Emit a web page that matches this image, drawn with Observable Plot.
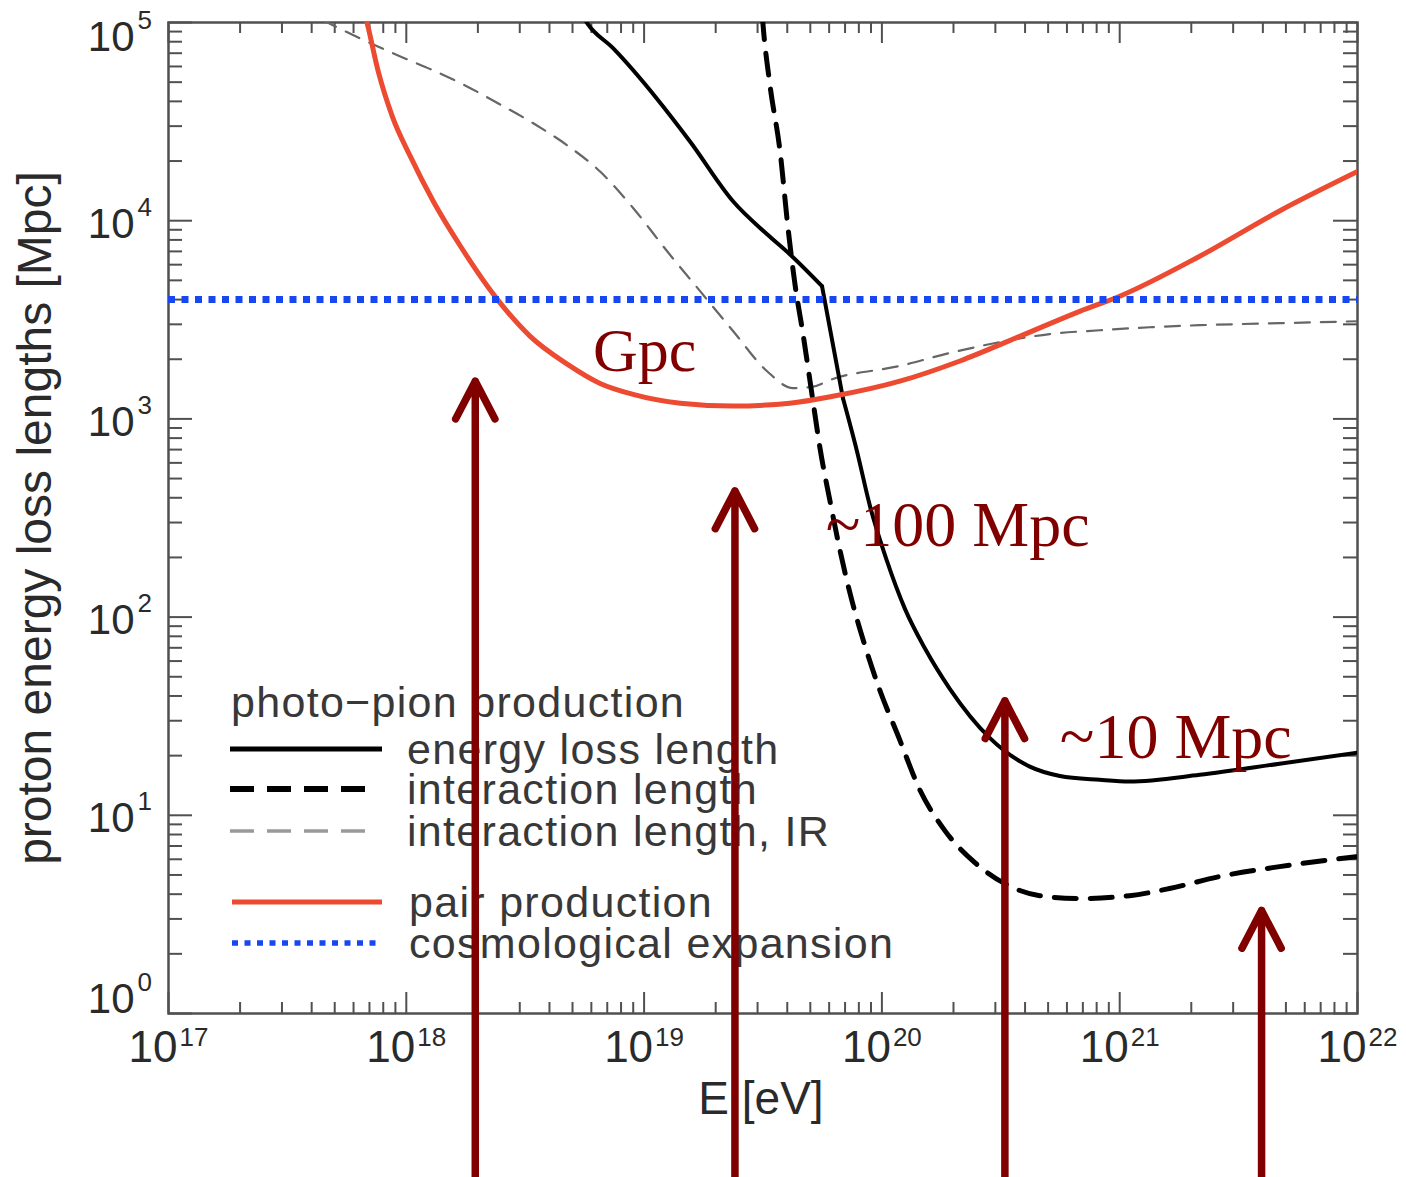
<!DOCTYPE html>
<html>
<head>
<meta charset="utf-8">
<script src="https://cdn.jsdelivr.net/npm/d3@7"></script>
<script src="https://cdn.jsdelivr.net/npm/@observablehq/plot@0.6"></script>
<style>
  html, body { margin: 0; padding: 0; background: #fff; }
  #chart svg { display: block; }
</style>
</head>
<body>
<div id="chart"></div>
<script>
// ---------------- data ----------------
// pair production energy-loss length
const pairE = [6.11e17, 6.85e17, 7.62e17, 8.73e17, 1.04e18, 1.30e18, 1.69e18, 2.41e18, 3.32e18, 4.75e18, 6.53e18, 8.99e18, 1.42e19, 2.37e19, 4.10e19, 6.22e19, 1.19e20, 2.13e20, 3.80e20, 6.79e20, 1.0e21, 2.17e21, 4.70e21, 1.0e22];
const pairL = [1.61e5, 9.9e4, 5.66e4, 3.36e4, 2.11e4, 1.25e4, 7.43e3, 4.02e3, 2.61e3, 1.89e3, 1.51e3, 1.33e3, 1.20e3, 1.16e3, 1.20e3, 1.30e3, 1.55e3, 1.96e3, 2.61e3, 3.49e3, 4.16e3, 6.62e3, 1.12e4, 1.77e4];

// photo-pion energy loss length (kink at index 8)
const lossE = [4.89e18, 5.77e18, 7.42e18, 1.13e19, 1.56e19, 2.37e19, 3.29e19, 4.10e19, 5.60e19, 6.86e19, 7.85e19, 8.91e19, 1.05e20, 1.25e20, 1.52e20, 1.93e20, 2.84e20, 4.19e20, 5.60e20, 8.24e20, 1.10e21, 2.17e21, 4.70e21, 1.0e22];
const lossL = [1.43e5, 9.9e4, 7.40e4, 4.14e4, 2.51e4, 1.25e4, 8.54e3, 6.77e3, 4.67e3, 1.27e3, 689, 363, 192, 110, 69.2, 43.5, 24.6, 17.6, 15.8, 15.1, 14.8, 16.0, 18.2, 20.7];

// photo-pion interaction length
const interE = [3.07e19, 3.16e19, 3.38e19, 3.73e19, 4.03e19, 4.31e19, 4.66e19, 5.13e19, 5.49e19, 6.05e19, 6.67e19, 7.48e19, 8.49e19, 9.82e19, 1.17e20, 1.45e20, 1.84e20, 2.46e20, 3.29e20, 4.61e20, 6.79e20, 1.10e21, 1.62e21, 2.63e21, 4.70e21, 1.0e22];
const interL = [1.61e5, 9.9e4, 4.87e4, 2.24e4, 9.16e3, 4.78e3, 2.68e3, 1.23e3, 713, 385, 216, 121, 71.6, 42.5, 25.2, 13.3, 8.37, 5.77, 4.52, 3.93, 3.80, 3.93, 4.27, 4.91, 5.51, 6.19];

// photo-pion interaction length, IR
const irE = [4.44e17, 6.41e17, 9.44e17, 1.30e18, 1.80e18, 2.48e18, 3.42e18, 4.75e18, 6.53e18, 8.99e18, 1.25e19, 1.72e19, 2.37e19, 3.29e19, 4.23e19, 5.08e19, 6.22e19, 1.19e20, 1.93e20, 3.13e20, 5.08e20, 8.24e20, 1.34e21, 2.17e21, 4.70e21, 1.0e22];
const irL = [1.03e5, 8.30e4, 6.74e4, 5.73e4, 4.76e4, 3.86e4, 3.10e4, 2.40e4, 1.77e4, 1.16e4, 7.01e3, 4.41e3, 2.77e3, 1.74e3, 1.43e3, 1.45e3, 1.59e3, 1.85e3, 2.15e3, 2.44e3, 2.68e3, 2.80e3, 2.90e3, 2.97e3, 3.04e3, 3.11e3];

// cosmological expansion (Hubble length)
const cosmoL = [4000];

// annotation arrows: energy and tip height
const arrowE = [1.95e18, 2.41e19, 3.29e20, 3.95e21];
const arrowTop = [1550, 433, 37.8, 3.31];
const arrowBase = 0.1;

// annotation texts
const noteText = ["Gpc", "~100 Mpc", "~10 Mpc"];
const noteE = [6.1e18, 5.8e19, 5.6e20];
const noteL = [2200, 290, 24.8];

// axes
const xMajor = [1e17, 1e18, 1e19, 1e20, 1e21, 1e22];
const xExp = ["17", "18", "19", "20", "21", "22"];
const yMajor = [1e0, 1e1, 1e2, 1e3, 1e4, 1e5];
const yExp = ["0", "1", "2", "3", "4", "5"];
const xTitle = "E [eV]";
const yTitle = "proton energy loss lengths [Mpc]";

// legend
const legendTitle = "photo\u2212pion production";
const legendLabels = ["energy loss length", "interaction length", "interaction length, IR", "pair production", "cosmological expansion"];

// ---------------- build ----------------
const zip = (E, L) => E.map((e, i) => ({E: e, L: L[i]}));
const pair = zip(pairE, pairL);
const loss = zip(lossE, lossL);
const inter = zip(interE, interL);
const ir = zip(irE, irL);
const arrows = arrowE.map((e, i) => ({E: e, top: arrowTop[i], base: arrowBase}));
const notes = noteText.map((t, i) => ({text: t, E: noteE[i], L: noteL[i]}));

const xMinor = d3.range(17, 22).flatMap(p => d3.range(2, 10).map(m => m * 10 ** p));
const yMinor = d3.range(0, 5).flatMap(p => d3.range(2, 10).map(m => m * 10 ** p));

const W = 1406, H = 1177;
const mL = 168, mR = 49, mT = 22, mB = 164;
const iW = W - mL - mR, iH = H - mT - mB;

const RED = "#ec4a31", BLUE = "#1747f2", MAROON = "#800000", AX = "#505050";
const SANS = "Liberation Sans, Arial, sans-serif";
const SERIF = "Liberation Serif, Times New Roman, serif";
const LEG_FS = 43;

const styles = [
  {stroke: "#000", width: 5, dash: null, len: 152},
  {stroke: "#000", width: 6, dash: "24,13", len: 135},
  {stroke: "#999", width: 3.5, dash: "24,13", len: 135},
  {stroke: RED, width: 5, dash: null, len: 150},
  {stroke: BLUE, width: 5.5, dash: "6,6.5", len: 150}
];

function legend(index, scales, values, dims) {
  const g = d3.create("svg:g").attr("font-family", SANS).attr("text-anchor", "start")
    .attr("font-size", LEG_FS).attr("letter-spacing", "1.3px").attr("fill", "#383838");
  const x0 = dims.marginLeft, yb = dims.height - dims.marginBottom;
  const rowOff = [-264, -224, -182, -111, -70];
  g.append("text").attr("x", x0 + 63).attr("y", yb - 310).attr("dy", "0.32em").text(legendTitle);
  legendLabels.forEach((lab, i) => {
    const s = styles[i];
    const xs = x0 + (i >= 3 ? 64 : 62);
    g.append("line").attr("x1", xs).attr("x2", xs + s.len)
      .attr("y1", yb + rowOff[i]).attr("y2", yb + rowOff[i])
      .attr("stroke", s.stroke).attr("stroke-width", s.width)
      .attr("stroke-dasharray", s.dash);
    g.append("text").attr("x", x0 + (i >= 3 ? 241 : 239)).attr("y", yb + rowOff[i] + 1).attr("dy", "0.32em").text(lab);
  });
  return g.node();
}

const chart = Plot.plot({
  width: W, height: H,
  marginLeft: mL, marginRight: mR, marginTop: mT, marginBottom: mB,
  x: {type: "log", domain: [1e17, 1e22], axis: null},
  y: {type: "log", domain: [1, 1e5], axis: null},
  style: {background: "white", fontFamily: SANS, overflow: "hidden"},
  marks: [
    // ticks (inside, all four sides)
    Plot.tickX(xMinor, {x: d => d, insetTop: iH - 11, stroke: AX, strokeWidth: 2}),
    Plot.tickX(xMajor, {x: d => d, insetTop: iH - 21, stroke: AX, strokeWidth: 2}),
    Plot.tickX(xMinor, {x: d => d, insetBottom: iH - 11, stroke: AX, strokeWidth: 2}),
    Plot.tickX(xMajor, {x: d => d, insetBottom: iH - 21, stroke: AX, strokeWidth: 2}),
    Plot.tickY(yMinor, {y: d => d, insetRight: iW - 14, stroke: AX, strokeWidth: 2}),
    Plot.tickY(yMajor, {y: d => d, insetRight: iW - 24, stroke: AX, strokeWidth: 2}),
    Plot.tickY(yMinor, {y: d => d, insetLeft: iW - 14, stroke: AX, strokeWidth: 2}),
    Plot.tickY(yMajor, {y: d => d, insetLeft: iW - 24, stroke: AX, strokeWidth: 2}),
    Plot.frame({stroke: AX, strokeWidth: 2.5}),

    // tick labels
    Plot.text(xMajor, {x: d => d, frameAnchor: "bottom", text: () => "10", textAnchor: "end", dx: 9, dy: 48, fontSize: 44, fill: "#2a2a2a"}),
    Plot.text(xMajor, {x: d => d, frameAnchor: "bottom", text: (d, i) => xExp[i], textAnchor: "start", dx: 11, dy: 32, fontSize: 26, fill: "#2a2a2a"}),
    Plot.text(yMajor.slice(1, 5), {y: d => d, frameAnchor: "left", text: () => "10", textAnchor: "end", dx: -34, dy: 3.5, fontSize: 42, fill: "#2a2a2a"}),
    Plot.text(yMajor.slice(1, 5), {y: d => d, frameAnchor: "left", text: (d, i) => yExp[i + 1], textAnchor: "start", dx: -31, dy: -13.5, fontSize: 26, fill: "#2a2a2a"}),
    Plot.text(yMajor.slice(5), {y: d => d, frameAnchor: "left", text: () => "10", textAnchor: "end", dx: -34, dy: 15.5, fontSize: 42, fill: "#2a2a2a"}),
    Plot.text(yMajor.slice(5), {y: d => d, frameAnchor: "left", text: () => yExp[5], textAnchor: "start", dx: -31, dy: -1.5, fontSize: 26, fill: "#2a2a2a"}),
    Plot.text(yMajor.slice(0, 1), {y: d => d, frameAnchor: "left", text: () => "10", textAnchor: "end", dx: -34, dy: -13.5, fontSize: 42, fill: "#2a2a2a"}),
    Plot.text(yMajor.slice(0, 1), {y: d => d, frameAnchor: "left", text: () => yExp[0], textAnchor: "start", dx: -31, dy: -30.5, fontSize: 26, fill: "#2a2a2a"}),

    // axis titles
    Plot.text([xTitle], {frameAnchor: "bottom", text: d => d, dx: -2, dy: 100, fontSize: 46, fill: "#2a2a2a"}),
    Plot.text([yTitle], {frameAnchor: "left", text: d => d, rotate: -90, textAnchor: "middle", dx: -133, fontSize: 48, fill: "#2a2a2a"}),

    // legend
    legend,

    // curves
    Plot.line(ir, {x: "E", y: "L", stroke: "#666", strokeWidth: 2.2, strokeDasharray: "15,11", curve: "monotone-x", clip: true}),
    Plot.line(inter, {x: "E", y: "L", stroke: "#000", strokeWidth: 5, strokeDasharray: "22,14", curve: "monotone-x", clip: true}),
    Plot.line(loss.slice(0, 9), {x: "E", y: "L", stroke: "#000", strokeWidth: 4, curve: "monotone-x", clip: true}),
    Plot.line(loss.slice(8, 10), {x: "E", y: "L", stroke: "#000", strokeWidth: 4, curve: "linear", strokeLinecap: "round", clip: true}),
    Plot.line(loss.slice(9), {x: "E", y: "L", stroke: "#000", strokeWidth: 4, curve: "monotone-x", clip: true}),
    Plot.line(pair, {x: "E", y: "L", stroke: RED, strokeWidth: 5, curve: "monotone-x", clip: true}),
    Plot.ruleY(cosmoL, {stroke: BLUE, strokeWidth: 7, strokeDasharray: "7,6.5"}),

    // annotations
    Plot.text(notes.slice(0, 1), {x: "E", y: "L", text: "text", textAnchor: "start", fontFamily: SERIF, fontSize: 62, fill: MAROON}),
    Plot.text(notes.slice(1), {x: "E", y: "L", text: "text", textAnchor: "start", fontFamily: SERIF, fontSize: 64, fill: MAROON}),
    Plot.arrow(arrows, {x1: "E", x2: "E", y1: "base", y2: "top", stroke: MAROON, strokeWidth: 7.5, headLength: 8.5, headAngle: 55, strokeLinecap: "round", strokeLinejoin: "round"})
  ]
});

document.getElementById("chart").append(chart);
</script>
</body>
</html>
